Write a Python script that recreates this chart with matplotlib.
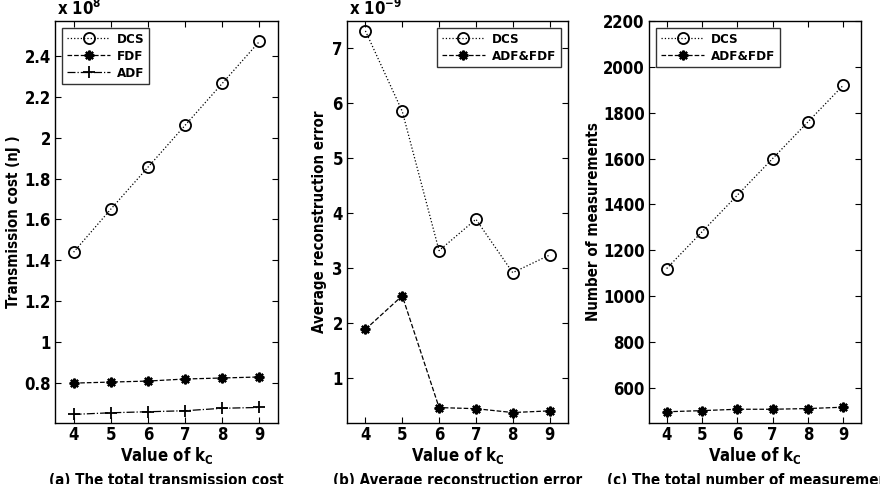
import matplotlib
matplotlib.use("Agg")
import matplotlib.pyplot as plt

kc = [4, 5, 6, 7, 8, 9]

# (a) transmission cost, x 1e8
cost_dcs = [1.44, 1.65, 1.855, 2.06, 2.265, 2.47]
cost_fdf = [0.80, 0.805, 0.81, 0.82, 0.825, 0.83]
cost_adf = [0.647, 0.655, 0.66, 0.665, 0.677, 0.681]

# (b) average reconstruction error, x 1e-9
err_dcs = [7.31, 5.85, 3.32, 3.89, 2.92, 3.24]
err_adf_fdf = [1.89, 2.50, 0.47, 0.45, 0.38, 0.41]

# (c) number of measurements
meas_dcs = [1120, 1280, 1440, 1600, 1760, 1920]
meas_adf_fdf = [495, 500, 506, 506, 509, 515]

plt.rcParams['font.family'] = ['DejaVu Sans']
plt.rcParams['font.weight'] = 'bold'
plt.rcParams['font.stretch'] = 'condensed'
plt.rcParams['mathtext.fontset'] = 'custom'
plt.rcParams['mathtext.rm'] = 'DejaVu Sans:weight=bold:stretch=condensed'
plt.rcParams['mathtext.bf'] = 'DejaVu Sans:weight=bold:stretch=condensed'
plt.rcParams['mathtext.it'] = 'DejaVu Sans:weight=bold:stretch=condensed'
plt.rcParams['mathtext.default'] = 'bf'

W, H = 880, 484
fig = plt.figure(figsize=(W / 100, H / 100), dpi=100)

FS = 12


def px_axes(l, r, t, b):
    return fig.add_axes([l / W, (H - b) / H, (r - l) / W, (b - t) / H])


def style(ax, ylab, ylab_x_px, left_px, width_px):
    ax.tick_params(direction='in', top=True, right=True, length=4, width=0.8,
                   labelsize=FS)
    ax.tick_params(axis='x', pad=2.5)
    ax.tick_params(axis='y', pad=3)
    for lab in ax.get_xticklabels() + ax.get_yticklabels():
        lab.set_fontweight('bold')
    for s in ax.spines.values():
        s.set_linewidth(1.0)
    ax.set_xlim(3.5, 9.5)
    ax.set_xticks(kc)
    ax.set_xlabel('Value of k$_\\mathregular{C}$', fontsize=FS, fontweight='bold')
    ax.xaxis.set_label_coords(0.5, -(461 - 423) / 402, transform=ax.transAxes)
    ax.xaxis.label.set_va('baseline')
    ax.set_ylabel(ylab, fontsize=10.8, fontweight='bold')
    ax.yaxis.set_label_coords((ylab_x_px - left_px) / width_px, 0.5)
    ax.yaxis.label.set_va('center')


lw = 0.9
ms_o = 8
ast = (8, 2, 0)

# ---- (a)
axa = px_axes(55, 278, 21, 423)
axa.plot(kc, cost_dcs, ':', color='black', lw=lw, marker='o', mfc='none', mec='black', ms=ms_o, mew=1.3, label='DCS')
axa.plot(kc, cost_fdf, '--', color='black', lw=lw, marker=ast, mec='black', ms=7, mew=1.6, label='FDF')
axa.plot(kc, cost_adf, '-.', color='black', lw=lw, marker='+', mec='black', ms=9, mew=1.3, label='ADF')
axa.set_ylim(0.605, 2.57)
axa.set_yticks([0.8, 1, 1.2, 1.4, 1.6, 1.8, 2, 2.2, 2.4])
axa.set_yticklabels(['0.8', '1', '1.2', '1.4', '1.6', '1.8', '2', '2.2', '2.4'])
style(axa, 'Transmission cost (nJ )', 14, 55, 223)
axa.text(0.01, 6 / 402 + 1, r'x 10$^{8}$', transform=axa.transAxes, fontsize=FS, fontweight='bold', va='baseline', ha='left')

# ---- (b)
axb = px_axes(347, 568, 21, 423)
axb.plot(kc, err_dcs, ':', color='black', lw=lw, marker='o', mfc='none', mec='black', ms=ms_o, mew=1.3, label='DCS')
axb.plot(kc, err_adf_fdf, '--', color='black', lw=lw, marker=ast, mec='black', ms=7, mew=1.6, label='ADF&FDF')
axb.set_ylim(0.19, 7.49)
axb.set_yticks([1, 2, 3, 4, 5, 6, 7])
style(axb, 'Average reconstruction error', 319, 347, 221)
axb.text(0.01, 6 / 402 + 1, r'x 10$^{-9}$', transform=axb.transAxes, fontsize=FS, fontweight='bold', va='baseline', ha='left')

# ---- (c)
axc = px_axes(649, 861, 21, 423)
axc.plot(kc, meas_dcs, ':', color='black', lw=lw, marker='o', mfc='none', mec='black', ms=ms_o, mew=1.3, label='DCS')
axc.plot(kc, meas_adf_fdf, '--', color='black', lw=lw, marker=ast, mec='black', ms=7, mew=1.6, label='ADF&FDF')
axc.set_ylim(446, 2200)
axc.set_yticks([600, 800, 1000, 1200, 1400, 1600, 1800, 2000, 2200])
style(axc, 'Number of measurements', 593, 649, 212)

for ax, loc in [(axa, 'upper left'), (axb, 'upper right'), (axc, 'upper left')]:
    leg = ax.legend(loc=loc, prop={'weight': 'bold', 'size': 9.5}, frameon=True, fancybox=False,
                    edgecolor='black', handlelength=3.3, borderpad=0.35, labelspacing=0.3,
                    handletextpad=0.5, borderaxespad=0.55)
    leg.get_frame().set_linewidth(1.0)

captions = ['(a) The total transmission cost', '(b) Average reconstruction error',
            '(c) The total number of measurements']
for ax, cap in zip([axa, axb, axc], captions):
    bb = ax.get_position()
    fig.text((bb.x0 + bb.x1) / 2, (H - 473) / H, cap, ha='center', va='top',
             fontsize=10.8, fontweight='bold')

fig.savefig('out.png', dpi=100)
